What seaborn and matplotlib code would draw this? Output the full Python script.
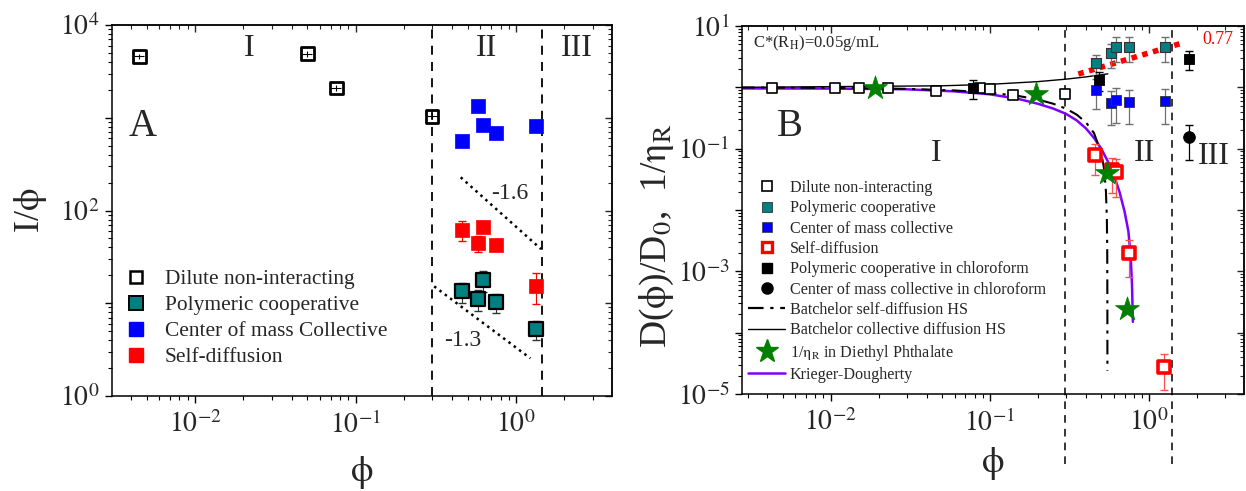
import numpy as np
import pandas as pd
import matplotlib
matplotlib.use("Agg")
import matplotlib.pyplot as plt
import seaborn as sns
from matplotlib.ticker import FixedLocator, FuncFormatter, NullFormatter, LogLocator
from matplotlib.lines import Line2D

# ---------------- Panel A data ----------------
a_dilute_x = [0.0045, 0.050, 0.0757, 0.299]
a_dilute_y = [4600, 4900, 2090, 1040]
a_phi = [0.46, 0.577, 0.618, 0.753, 1.33]
a_poly_y = [13.4, 11.1, 17.6, 10.2, 5.25]
a_poly_err = [3.3, 2.9, 4.4, 2.4, 1.2]
a_com_y = [559, 1355, 832, 687, 811]
a_self_y = [62, 44.6, 65.8, 42.8, 15.4]
a_self_err = [15, 9, 0, 0, 5.6]
a_slope16_x = [0.452, 1.43]
a_slope16_y = [228, 38.4]
a_slope13_x = [0.309, 1.227]
a_slope13_y = [15.2, 2.55]

# ---------------- Panel B data ----------------
b_dilute_x = [0.0043, 0.0107, 0.015, 0.023, 0.046, 0.087, 0.10, 0.14, 0.295]
b_dilute_y = [0.98, 0.98, 0.98, 0.98, 0.87, 0.97, 0.93, 0.76, 0.77]
b_phi = [0.462, 0.578, 0.619, 0.751, 1.25]
b_poly_y = [2.5, 3.6, 4.6, 4.6, 4.6]
b_poly_err = [0.9, 1.5, 2.0, 2.0, 2.0]
b_com_y = [0.90, 0.555, 0.62, 0.58, 0.60]
b_com_err = [0.45, 0.31, 0.36, 0.33, 0.35]
b_self_x = [0.455, 0.58, 0.615, 0.75, 1.24]
b_self_y = [0.079, 0.045, 0.042, 0.0020, 2.8e-5]
b_self_err = [0.042, 0.026, 0.026, 0.0012, 1.65e-5]
b_chl_x = [0.078, 0.486, 1.78]
b_chl_y = [0.98, 1.32, 2.9]
b_chl_err = [0.33, 0.45, 0.95]
b_chlc_x = [1.78]
b_chlc_y = [0.155]
b_chlc_err = [0.09]
b_star_x = [0.019, 0.195, 0.545, 0.728]
b_star_y = [0.97, 0.78, 0.040, 2.45e-4]
kd_x = [0.0027, 0.01, 0.03, 0.06, 0.10, 0.15, 0.20, 0.25, 0.30, 0.35, 0.40, 0.45,
        0.50, 0.55, 0.60, 0.65, 0.70, 0.74, 0.765, 0.78, 0.79]
kd_y = [0.96, 0.955, 0.93, 0.86, 0.77, 0.65, 0.54, 0.45, 0.37, 0.29, 0.215, 0.15,
        0.10, 0.062, 0.037, 0.02, 0.0095, 0.0045, 0.0018, 0.0006, 0.00015]
bself_x = [0.0027, 0.01, 0.03, 0.06, 0.10, 0.15, 0.20, 0.25, 0.30, 0.35, 0.40,
           0.45, 0.50, 0.52, 0.535, 0.542, 0.545, 0.5462, 0.5464]
bself_y = [0.995, 0.98, 0.945, 0.89, 0.817, 0.725, 0.634, 0.54, 0.45, 0.36, 0.27,
           0.18, 0.085, 0.048, 0.02, 0.0075, 0.0024, 0.0003, 2.4e-5]
bcoll_x = [0.0027, 0.05, 0.10, 0.20, 0.30, 0.40, 0.55]
bcoll_y = [1.0, 1.06, 1.12, 1.24, 1.36, 1.48, 1.66]
b_fit_x = [0.359, 1.61]
b_fit_y = [1.65, 5.28]

TEAL = "#008080"
BLUE = "#0000FF"
RED = "#FF0000"
GREEN = "#008000"
PURPLE = "#8000FF"

sns.set_theme(style="white")
plt.rcParams["font.family"] = ["Liberation Serif", "DejaVu Serif"]
plt.rcParams["mathtext.fontset"] = "stix"
plt.rcParams["axes.linewidth"] = 1.1

PHI = r"$\mathrm{\phi}$"
ETA = r"$\mathrm{\eta}_\mathrm{R}$"

fig = plt.figure(figsize=(12.46, 4.91), dpi=100)
axA = fig.add_axes([0.0899, 0.1935, 0.4013, 0.7555])
axB = fig.add_axes([0.5955, 0.1976, 0.4029, 0.7494])


def sci(v, pos, show):
    e = int(round(np.log10(v)))
    return r"$10^{%d}$" % e if e in show else ""


def style_axes(ax, xlim, ylim, ymaj, ylab_exps, xlab_exps):
    ax.set_xscale("log")
    ax.set_yscale("log")
    ax.set_xlim(*xlim)
    ax.set_ylim(*ylim)
    ax.xaxis.set_major_locator(FixedLocator([1e-3, 1e-2, 1e-1, 1, 10]))
    ax.xaxis.set_minor_locator(LogLocator(base=10, subs=np.arange(2, 10), numticks=50))
    ax.yaxis.set_major_locator(FixedLocator(ymaj))
    ax.yaxis.set_minor_locator(LogLocator(base=10, subs=np.arange(2, 10), numticks=50))
    ax.xaxis.set_major_formatter(FuncFormatter(lambda v, p: sci(v, p, xlab_exps)))
    ax.yaxis.set_major_formatter(FuncFormatter(lambda v, p: sci(v, p, ylab_exps)))
    ax.xaxis.set_minor_formatter(NullFormatter())
    ax.yaxis.set_minor_formatter(NullFormatter())
    ax.tick_params(which="major", direction="out", length=5, width=1.0,
                   labelsize=20, pad=4, color="black", bottom=True, left=True)
    ax.tick_params(axis="x", which="major", pad=6)
    ax.tick_params(which="minor", direction="out", length=3, width=0.8,
                   color="black", bottom=True, left=True)
    for s in ax.spines.values():
        s.set_color("black")
        s.set_linewidth(1.1)
    sx = ax.secondary_xaxis("top")
    sx.xaxis.set_major_locator(FixedLocator([1e-3, 1e-2, 1e-1, 1, 10]))
    sx.xaxis.set_minor_locator(LogLocator(base=10, subs=np.arange(2, 10), numticks=50))
    sx.tick_params(which="major", direction="in", length=5, width=1.0, labeltop=False)
    sx.tick_params(which="minor", direction="in", length=3, width=0.8, labeltop=False)
    sy = ax.secondary_yaxis("right")
    sy.yaxis.set_major_locator(FixedLocator(ymaj))
    sy.yaxis.set_minor_locator(LogLocator(base=10, subs=np.arange(2, 10), numticks=50))
    sy.tick_params(which="major", direction="in", length=5, width=1.0, labelright=False)
    sy.tick_params(which="minor", direction="in", length=3, width=0.8, labelright=False)


# ================= Panel A =================
ax = axA
style_axes(ax, (0.00304, 3.96), (1, 1e4), [1, 10, 100, 1000, 1e4], {0, 2, 4}, {-2, -1, 0})

ax.errorbar(a_dilute_x, a_dilute_y, yerr=[v * 0.07 for v in a_dilute_y],
            xerr=[v * 0.07 for v in a_dilute_x], fmt="none", ecolor="black",
            elinewidth=0.8, capsize=0, zorder=2)
sns.scatterplot(x=a_dilute_x, y=a_dilute_y, ax=ax, marker="s", s=85,
                facecolor="none", edgecolor="black", linewidth=2, legend=False, zorder=3)
ax.errorbar(a_phi, a_poly_y, yerr=a_poly_err, fmt="none", ecolor="#333333",
            elinewidth=0.8, capsize=3, zorder=2)
sns.scatterplot(x=a_phi, y=a_poly_y, ax=ax, marker="s", s=100, color=TEAL,
                edgecolor="black", linewidth=1.6, legend=False, zorder=3)
sns.scatterplot(x=a_phi, y=a_com_y, ax=ax, marker="s", s=110, color=BLUE,
                edgecolor=BLUE, linewidth=0.5, legend=False, zorder=3)
ax.errorbar(a_phi, a_self_y, yerr=a_self_err, fmt="none", ecolor=RED,
            elinewidth=0.8, capsize=3, zorder=2)
sns.scatterplot(x=a_phi, y=a_self_y, ax=ax, marker="s", s=110, color=RED,
                edgecolor=RED, linewidth=0.5, legend=False, zorder=3)
sns.lineplot(x=a_slope16_x, y=a_slope16_y, ax=ax, color="black", linestyle=":",
             linewidth=1.8, estimator=None, sort=False)
sns.lineplot(x=a_slope13_x, y=a_slope13_y, ax=ax, color="black", linestyle=":",
             linewidth=1.8, estimator=None, sort=False)
for xv in (0.298, 1.45):
    ax.axvline(xv, color="black", linestyle=(0, (5, 4)), linewidth=1.3, zorder=1)

ax.text(0.908, 154, "-1.6", fontsize=17, ha="center", va="center")
ax.text(0.468, 4.0, "-1.3", fontsize=17, ha="center", va="center")
ax.text(0.0219, 5540, "I", fontsize=23, ha="center", va="center")
ax.text(0.657, 5540, "II", fontsize=23, ha="center", va="center")
ax.text(2.38, 5540, "III", fontsize=23, ha="center", va="center")
ax.text(0.00473, 811, "A", fontsize=28, ha="center", va="center")
ax.set_xlabel(PHI, fontsize=26, labelpad=11)
ax.set_ylabel("I/" + PHI, fontsize=26, labelpad=8)

hA = [
    Line2D([], [], marker="s", ls="none", ms=9, mfc="white", mec="black", mew=1.8),
    Line2D([], [], marker="s", ls="none", ms=10, mfc=TEAL, mec="black", mew=1.4),
    Line2D([], [], marker="s", ls="none", ms=10, mfc=BLUE, mec=BLUE),
    Line2D([], [], marker="s", ls="none", ms=10, mfc=RED, mec=RED),
]
lA = ["Dilute non-interacting", "Polymeric cooperative",
      "Center of mass Collective", "Self-diffusion"]
ax.legend(hA, lA, loc="lower left", bbox_to_anchor=(0.005, 0.055), frameon=False,
          fontsize=15.4, handlelength=1.2, handletextpad=0.75, labelspacing=0.28,
          borderaxespad=0)

# ================= Panel B =================
ax = axB
style_axes(ax, (0.00277, 3.94), (1e-5, 10), [1e-5, 1e-4, 1e-3, 1e-2, 1e-1, 1, 10],
           {-5, -3, -1, 1}, {-2, -1, 0})

sns.lineplot(x=kd_x, y=kd_y, ax=ax, color=PURPLE, linewidth=1.8, estimator=None,
             sort=False, zorder=2)
sns.lineplot(x=bself_x, y=bself_y, ax=ax, color="black", linewidth=1.5,
             estimator=None, sort=False, zorder=2)
ax.lines[-1].set_dashes([7, 3, 1.5, 3])
sns.lineplot(x=bcoll_x, y=bcoll_y, ax=ax, color="black", linewidth=1.0,
             estimator=None, sort=False, zorder=2)
sns.lineplot(x=b_fit_x, y=b_fit_y, ax=ax, color=RED, linewidth=4.0, estimator=None,
             sort=False, zorder=2)
ax.lines[-1].set_dashes([1, 1])
for xv in (0.298, 1.40):
    ax.axvline(xv, ymin=-0.19, ymax=1, color="black", linestyle=(0, (5, 4)),
               linewidth=1.1, zorder=1, clip_on=False)

ax.errorbar(b_dilute_x, b_dilute_y, yerr=[v * 0.03 for v in b_dilute_y], fmt="none",
            ecolor="black", elinewidth=0.6, capsize=0, zorder=2)
sns.scatterplot(x=b_dilute_x, y=b_dilute_y, ax=ax, marker="s", s=55,
                facecolor="white", edgecolor="black", linewidth=1.2, legend=False, zorder=3)
ax.errorbar(b_phi, b_poly_y, yerr=b_poly_err, fmt="none", ecolor="#707070",
            elinewidth=0.9, capsize=3, zorder=2)
sns.scatterplot(x=b_phi, y=b_poly_y, ax=ax, marker="s", s=60, color=TEAL,
                edgecolor="#333333", linewidth=0.8, legend=False, zorder=3)
ax.errorbar(b_phi, b_com_y, yerr=b_com_err, fmt="none", ecolor="#707070",
            elinewidth=0.9, capsize=3, zorder=2)
sns.scatterplot(x=b_phi, y=b_com_y, ax=ax, marker="s", s=60, color=BLUE,
                edgecolor="#333333", linewidth=0.6, legend=False, zorder=3)
ax.errorbar(b_self_x, b_self_y, yerr=b_self_err, fmt="none", ecolor="#FF5050",
            elinewidth=0.9, capsize=3, zorder=2)
sns.scatterplot(x=b_self_x, y=b_self_y, ax=ax, marker="s", s=70, facecolor="white",
                edgecolor=RED, linewidth=2.6, legend=False, zorder=3)
ax.errorbar(b_chl_x, b_chl_y, yerr=b_chl_err, fmt="none", ecolor="black",
            elinewidth=0.9, capsize=3, zorder=2)
sns.scatterplot(x=b_chl_x, y=b_chl_y, ax=ax, marker="s", s=60, color="black",
                edgecolor="black", legend=False, zorder=3)
ax.errorbar(b_chlc_x, b_chlc_y, yerr=b_chlc_err, fmt="none", ecolor="black",
            elinewidth=0.9, capsize=3, zorder=2)
sns.scatterplot(x=b_chlc_x, y=b_chlc_y, ax=ax, marker="o", s=70, color="black",
                edgecolor="black", legend=False, zorder=3)
sns.scatterplot(x=b_star_x, y=b_star_y, ax=ax, marker="*", s=330, color=GREEN,
                edgecolor=GREEN, linewidth=0.5, legend=False, zorder=4)

ax.text(2.15, 6.1, "0.77", color=RED, fontsize=13, ha="left", va="center")
ax.text(0.022, 0.954, r"C*(R$_\mathrm{H}$)=0.05g/mL", transform=ax.transAxes,
        fontsize=12, ha="left", va="center")
ax.text(0.00553, 0.234, "B", fontsize=28, ha="center", va="center")
ax.text(0.046, 0.082, "I", fontsize=23, ha="center", va="center")
ax.text(0.93, 0.082, "II", fontsize=23, ha="center", va="center")
ax.text(2.56, 0.075, "III", fontsize=23, ha="center", va="center")
ax.set_xlabel(PHI, fontsize=26, labelpad=6)
ax.set_ylabel("D(" + PHI + ")/D$_0$,  1/" + ETA, fontsize=27)
ax.yaxis.set_label_coords(-0.132, 0.43)

hB = [
    Line2D([], [], marker="s", ls="none", ms=7, mfc="white", mec="black", mew=1.2),
    Line2D([], [], marker="s", ls="none", ms=7, mfc=TEAL, mec="#333333", mew=0.6),
    Line2D([], [], marker="s", ls="none", ms=7, mfc=BLUE, mec="#333333", mew=0.5),
    Line2D([], [], marker="s", ls="none", ms=7, mfc="white", mec=RED, mew=2.4),
    Line2D([], [], marker="s", ls="none", ms=7, mfc="black", mec="black"),
    Line2D([], [], marker="o", ls="none", ms=8, mfc="black", mec="black"),
    Line2D([], [], color="black", lw=1.6, dashes=[7, 3, 1.5, 3]),
    Line2D([], [], color="black", lw=1.0),
    Line2D([], [], marker="*", ls="none", ms=17, mfc=GREEN, mec=GREEN),
    Line2D([], [], color=PURPLE, lw=1.8),
]
lB = ["Dilute non-interacting", "Polymeric cooperative", "Center of mass collective",
      "Self-diffusion", "Polymeric cooperative in chloroform",
      "Center of mass collective in chloroform", "Batchelor self-diffusion HS",
      "Batchelor collective diffusion HS", "1/" + ETA + " in Diethyl Phthalate",
      "Krieger-Dougherty"]
ax.legend(hB, lB, loc="lower left", bbox_to_anchor=(0.0, 0.012), frameon=False,
          fontsize=11.6, handlelength=2.3, handletextpad=0.25, labelspacing=0.27,
          borderaxespad=0)

fig.savefig("out.png", dpi=100)
